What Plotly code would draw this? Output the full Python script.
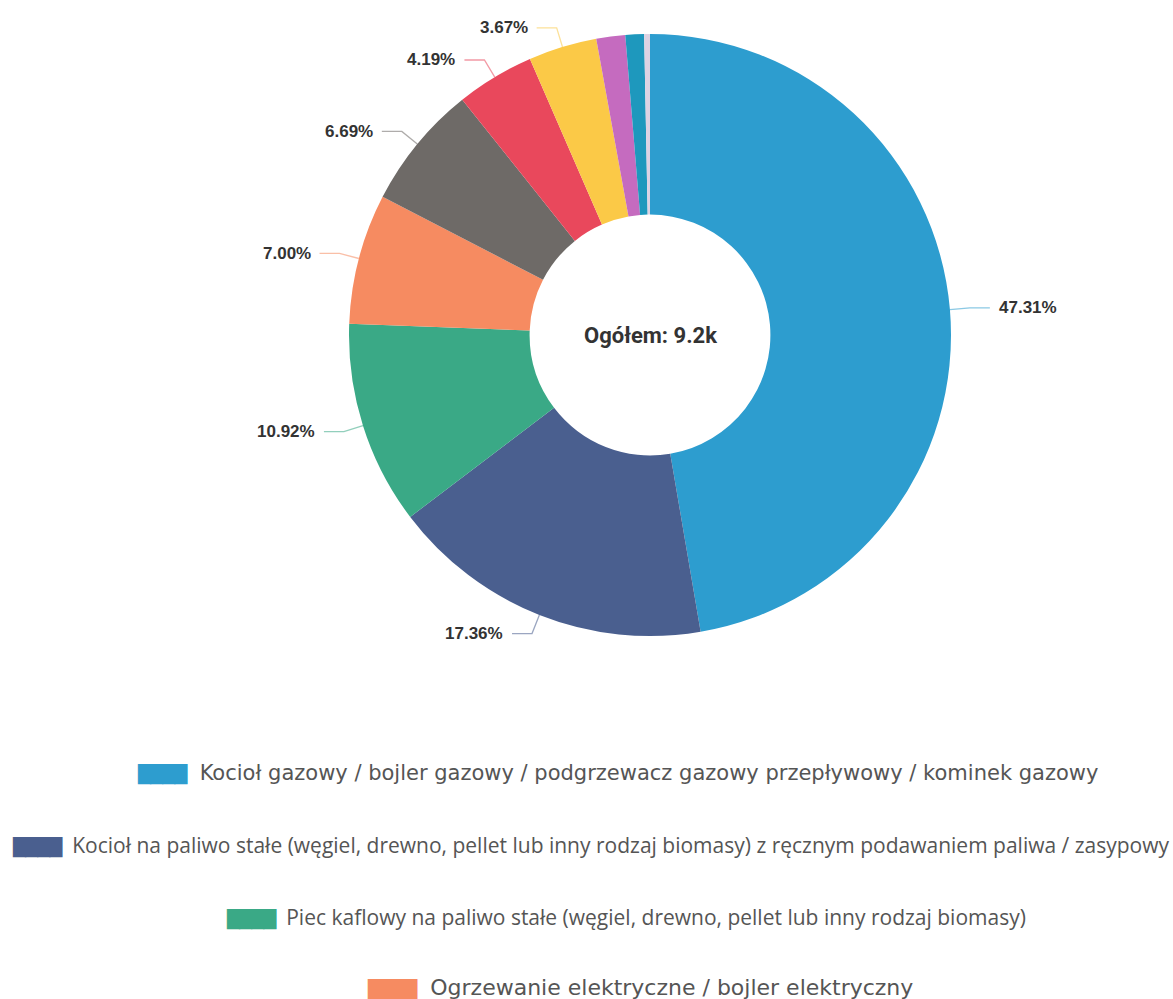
import math
import plotly.graph_objects as go

# ---- data ----
labels = [
    "Kocioł gazowy / bojler gazowy / podgrzewacz gazowy przepływowy / kominek gazowy",
    "Kocioł na paliwo stałe (węgiel, drewno, pellet lub inny rodzaj biomasy) z ręcznym podawaniem paliwa / zasypowy",
    "Piec kaflowy na paliwo stałe (węgiel, drewno, pellet lub inny rodzaj biomasy)",
    "Ogrzewanie elektryczne / bojler elektryczny",
    "Kocioł na paliwo stałe z automatycznym podawaniem paliwa",
    "Pompa ciepła",
    "Sieć ciepłownicza",
    "Kocioł olejowy",
    "Kominek na paliwo stałe",
    "Inne",
]
values = [47.31, 17.36, 10.92, 7.00, 6.69, 4.19, 3.67, 1.55, 1.00, 0.31]
colors = ["#2d9dcf", "#4a5f8f", "#3aa986", "#f68b61", "#6e6a67",
          "#e9485c", "#fbc947", "#c56bbf", "#1e98bd", "#ddd3e3"]
center_text = "Ogółem: 9.2k"
legend_visible = 4

# ---- geometry (pixels) ----
W, H = 1173, 999
cx, cy, R = 650, 335, 301
hole = 0.40

fig = go.Figure()
fig.add_trace(go.Pie(
    labels=labels, values=values, hole=hole, sort=False,
    direction="clockwise", rotation=0,
    marker=dict(colors=colors, line=dict(width=0)),
    textinfo="none", showlegend=False,
    domain=dict(x=[(cx - R) / W, (cx + R) / W], y=[1 - (cy + R) / H, 1 - (cy - R) / H]),
))

def px2paper(x, y):
    return x / W, 1 - y / H

total = sum(values)
cum = 0.0
shapes = []
annotations = []
for v, c in zip(values, colors):
    mid = (cum + v / 2) / total * 2 * math.pi
    cum += v
    pct = v / total * 100
    if pct < 3:
        continue
    s, co = math.sin(mid), -math.cos(mid)
    p0 = (cx + R * s, cy + R * co)
    p1 = (cx + (R + 20) * s, cy + (R + 20) * co)
    side = 1 if s >= 0 else -1
    p2 = (p1[0] + side * 20, p1[1])
    a0, a1, a2 = px2paper(*p0), px2paper(*p1), px2paper(*p2)
    shapes.append(dict(
        type="path", xref="paper", yref="paper",
        path=f"M {a0[0]},{a0[1]} L {a1[0]},{a1[1]} L {a2[0]},{a2[1]}",
        line=dict(color=c, width=1.3), opacity=0.55,
    ))
    tx = px2paper(p2[0] + side * 7, p2[1])
    annotations.append(dict(
        x=tx[0], y=tx[1], xref="paper", yref="paper",
        text=f"<b>{pct:.2f}%</b>", showarrow=False,
        xanchor="left" if side > 0 else "right", yanchor="middle",
        font=dict(family="Liberation Sans", size=17, color="#333333"),
    ))

cxp, cyp = px2paper(cx, cy)
annotations.append(dict(
    x=cxp, y=cyp, xref="paper", yref="paper", text=f"<b>{center_text}</b>",
    showarrow=False, xanchor="center", yanchor="middle",
    font=dict(family="Roboto", size=22, color="#333333"),
))

# legend rows (centered)
leg_fonts = [("DejaVu Sans", 21), ("Open Sans", 21), ("Open Sans", 21), ("DejaVu Sans", 22)]
leg_y = [773, 845, 917, 987]
leg_x = [617, 591, 626, 640]
for i in range(legend_visible):
    lx, ly = px2paper(leg_x[i], leg_y[i])
    fam, fs = leg_fonts[i]
    annotations.append(dict(
        x=lx, y=ly, xref="paper", yref="paper",
        text=(f"<span style='font-family:DejaVu Sans;color:{colors[i]};font-size:17px;"
              f"letter-spacing:-1px'>████</span>  {labels[i]}"),
        showarrow=False, xanchor="center", yanchor="middle",
        font=dict(family=fam, size=fs, color="#555555"),
    ))

fig.update_layout(
    width=W, height=H,
    margin=dict(l=0, r=0, t=0, b=0),
    paper_bgcolor="white", plot_bgcolor="white",
    shapes=shapes, annotations=annotations,
)

fig.write_html("out.html", config={"displayModeBar": False},
               post_script="document.body.style.margin='0';document.body.style.overflow='hidden';")
